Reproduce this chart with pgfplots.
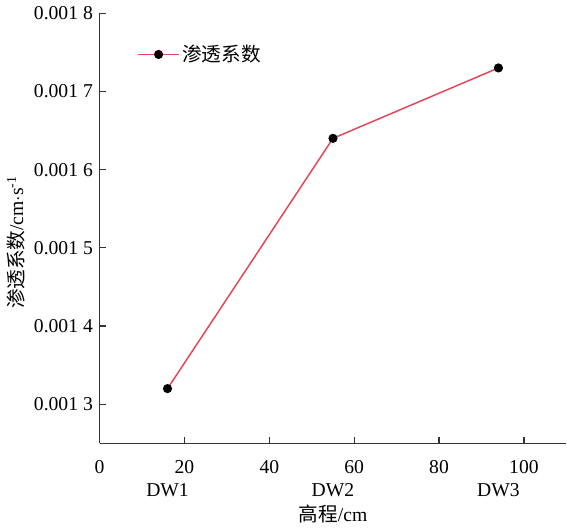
\documentclass[border=0pt]{standalone}
\usepackage{pgfplots}
\pgfplotsset{compat=1.18}
\usepackage{fontspec}
\setmainfont{Liberation Serif}
\newfontfamily\cjk{Noto Sans CJK SC}
\definecolor{linered}{RGB}{226,72,88}
\begin{document}
\begin{tikzpicture}
\fontsize{14.5}{17}\selectfont
\begin{axis}[
  scale only axis,
  width=345pt, height=318pt,
  xmin=0, xmax=110,
  ymin=0.00125, ymax=0.0018,
  axis x line=bottom, axis y line=left,
  axis line style={-, line width=1pt, black!80},
  tick align=inside,
  major tick length=5pt,
  tick style={line width=0.9pt, black!80},
  xtick={0,20,40,60,80,100},
  ytick={0.0013,0.0014,0.0015,0.0016,0.0017,0.0018},
  yticklabels={0.001 3,0.001 4,0.001 5,0.001 6,0.001 7,0.001 8},
  scaled y ticks=false,
  /pgf/number format/assume math mode=true,
  ticklabel style={font=\fontsize{14.5}{17}\selectfont},
  xticklabel style={yshift=-7.5pt},
  extra x ticks={16,55,94},
  extra x tick labels={DW1,DW2,DW3},
  extra x tick style={major tick length=0pt, xticklabel style={yshift=-17pt}},
  xlabel={{\cjk 高程}/cm},
  xlabel style={at={(axis description cs:0.5,-0.1635)}, anchor=center,
    font=\fontsize{14.5}{17}\selectfont},
  ylabel={{\cjk 渗透系数}/cm$\cdot$s\textsuperscript{-1}},
  ylabel style={at={(axis description cs:-0.18,0.467)}, anchor=center,
    font=\fontsize{14.5}{17}\selectfont},
  legend style={draw=none, at={(0.072,0.94)}, anchor=north west,
    font=\fontsize{14.5}{17}\selectfont},
  legend cell align=left,
  legend image code/.code={
    \draw[mark repeat=2, mark phase=2, #1]
      plot coordinates {(0pt,0pt) (15pt,0pt) (30pt,0pt)};
  },
]
\addplot[color=linered, line width=1.1pt, mark=*, mark size=2.8pt,
  mark options={fill=black, draw=black}]
  coordinates {(16,0.00132) (55,0.00164) (94,0.00173)};
\addlegendentry{\cjk 渗透系数}
\end{axis}
\end{tikzpicture}
\end{document}
